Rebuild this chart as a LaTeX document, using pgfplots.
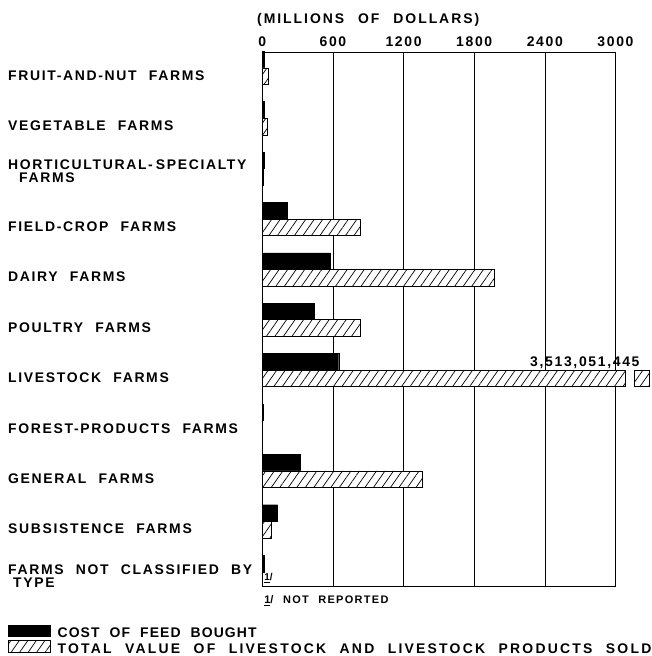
\documentclass[border=0pt]{standalone}
\usepackage{fontspec}
\setmainfont{Liberation Sans}
\newfontfamily\lf{Liberation Sans}[LetterSpace=12, WordSpace=2.2]
\newfontfamily\lfwide{Liberation Sans}[LetterSpace=16, WordSpace=2.2]
\newfontfamily\lfnarrow{Liberation Sans}[LetterSpace=8, WordSpace=2.0]
\newfontfamily\lftitle{Liberation Sans}[LetterSpace=14, WordSpace=2.4]
\usepackage{pgfplots}
\pgfplotsset{compat=1.18}
\usetikzlibrary{patterns.meta}
\newcommand\lbl{\lf\bfseries\fontsize{14}{13}\selectfont}
\newcommand\sml{\lf\bfseries\fontsize{11}{11}\selectfont}
\tikzset{hatch/.style={fill=white,postaction={pattern={Lines[angle=55,distance=7pt,line width=0.7pt]}}}}
\pgfplotsset{boxlegend/.style={legend image code/.code={\draw[##1] (0pt,-2.5pt) rectangle (42pt,9.5pt);}}}

% cost of feed bought (millions of dollars)
\pgfplotstableread{
c v
0 15
1 18
2 12
3 212
4 578
5 441
6 649
7 8
8 318
9 130
10 15
}\feed
% total value of livestock and products sold (livestock farms = 3513, drawn broken)
\pgfplotstableread{
c v
0 55
1 40
2 10
3 833
4 1968
5 835
6 3087
7 4
8 1356
9 80
}\sold

\begin{document}
\begin{tikzpicture}
\begin{axis}[
  scale only axis, width=354.4pt, height=536pt,
  xmin=0, xmax=3000, ymin=-0.3, ymax=10.3, y dir=reverse,
  axis line style={line width=0.8pt},
  xtick={0,600,1200,1800,2400,3000},
  xticklabels={0,600,1200,1800,2400,3000},
  xticklabel pos=upper,
  xticklabel style={anchor=base, inner sep=0pt, yshift=6pt, font=\lbl},
  xmajorgrids, grid style={black, line width=0.6pt},
  major tick length=0pt,
  ytick={0,...,10},
  yticklabels={
    FRUIT-AND-NUT FARMS,
    VEGETABLE FARMS,
    {\lower1.5pt\vbox{\baselineskip=13pt\hbox{HORTICULTURAL-\hspace{3pt}SPECIALTY}\hbox{\hspace{11pt}FARMS}}},
    FIELD-CROP FARMS,
    DAIRY FARMS,
    POULTRY FARMS,
    LIVESTOCK FARMS,
    FOREST-PRODUCTS FARMS,
    GENERAL FARMS,
    SUBSISTENCE FARMS,
    {\lower3.5pt\vbox{\baselineskip=13pt\hbox{FARMS NOT CLASSIFIED BY}\hbox{\hspace{5pt}TYPE}}}},
  yticklabel style={anchor=base west, inner sep=0pt, xshift=-255.3pt, yshift=-12.5pt, font=\lbl},
  clip=false,
  legend style={at={(axis description cs:-0.7204,-0.0705)}, anchor=north west,
    draw=none, fill=none, inner sep=0pt, outer sep=0pt, row sep=0pt, font=\lbl,
    nodes={inner sep=0pt, outer sep=0pt, text height=9.5pt, text depth=2.5pt},
    cells={anchor=west},
    /tikz/every odd column/.style={column sep=7pt}},
]
\addplot[xbar, bar width=0.33, bar shift=-0.165, fill=black, draw=black, boxlegend]
  table[x=v,y=c] {\feed};
\addlegendentry{\lfnarrow\bfseries COST OF FEED BOUGHT}
\addplot[xbar, bar width=0.33, bar shift=0.165, draw=black, line width=0.8pt, hatch, boxlegend]
  table[x=v,y=c] {\sold};
\addlegendentry{\lfwide\bfseries TOTAL VALUE OF LIVESTOCK AND LIVESTOCK PRODUCTS SOLD}
% broken-off end of the livestock bar
\addplot[forget plot, draw=black, line width=0.8pt, hatch]
  coordinates {(3163,6.0) (3290,6.0) (3290,6.33) (3163,6.33)} -- cycle;
\node[anchor=base east, font=\lbl, inner sep=0pt] at (axis cs:3206,5.93) {3,513,051,445};
\node[anchor=base west, font=\lf\bfseries\fontsize{10}{10}\selectfont, inner sep=0pt] at (axis cs:15,10.18) {\underline{1}/};
\node[anchor=base west, font=\lftitle\bfseries\fontsize{14}{13}\selectfont, inner sep=0pt] at (axis description cs:-0.015,1.0541) {(MILLIONS OF DOLLARS)};
\node[anchor=base west, font=\sml, inner sep=0pt] at (axis description cs:0.005,-0.0317) {\underline{1}/ NOT REPORTED};
\coordinate (O) at (axis description cs:0,0);
\end{axis}
\path (O) ++(-263.3pt,-67pt) rectangle ++(653pt,656pt);
\end{tikzpicture}
\end{document}
